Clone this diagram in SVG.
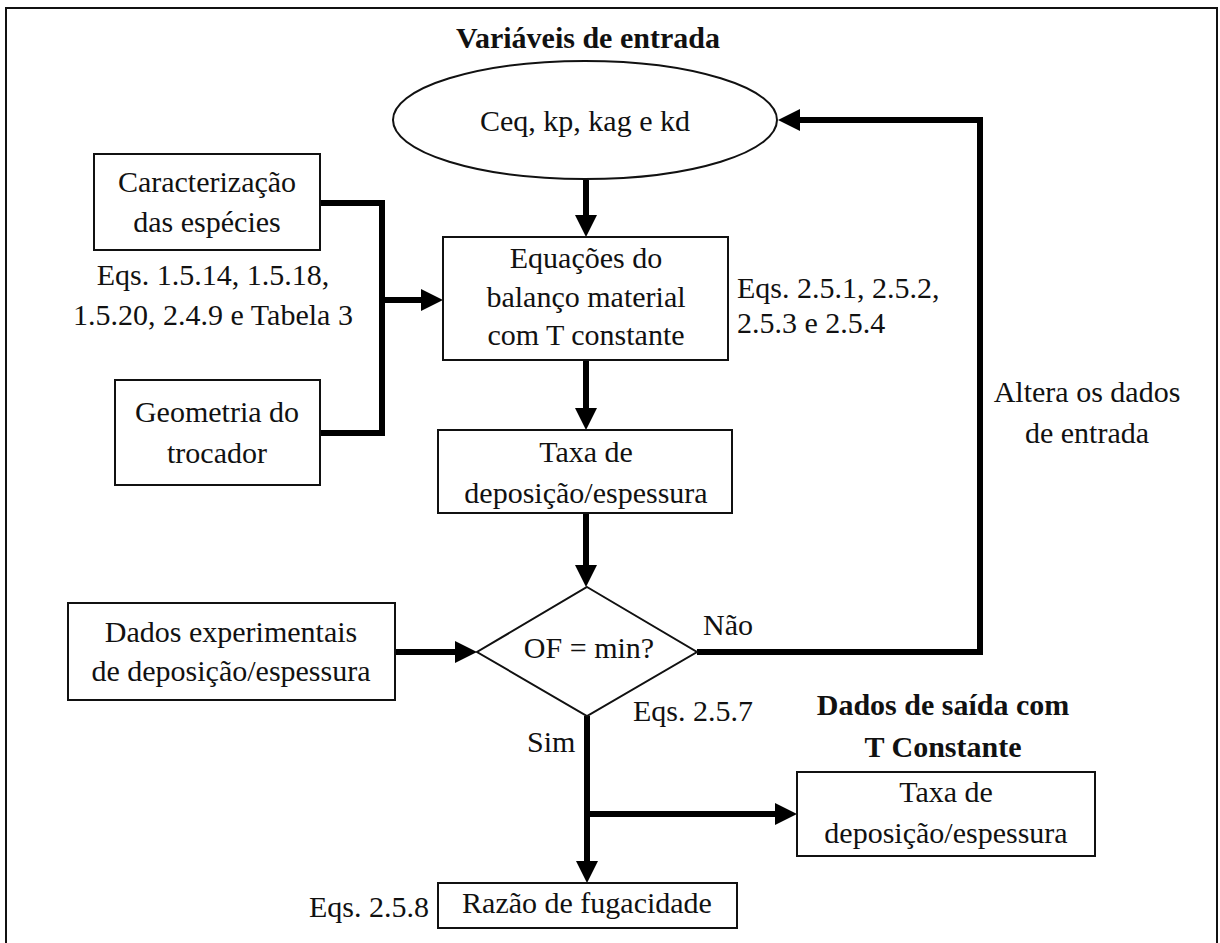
<svg xmlns="http://www.w3.org/2000/svg" width="1220" height="943" viewBox="0 0 1220 943">
<style>
  text { font-family: 'Liberation Serif', 'Times New Roman', 'DejaVu Serif', serif; font-size: 30px; fill: #111; }
  .t { text-anchor: middle; }
  .tl { text-anchor: start; }
  .b { font-weight: bold; }
  .box { fill: #fff; stroke: #111; stroke-width: 2; }
  .conn { fill: none; stroke: #000; stroke-width: 6; stroke-linejoin: miter; }
</style>
<defs>
  <marker id="ah" markerUnits="userSpaceOnUse" markerWidth="22" markerHeight="22" refX="0" refY="11" orient="auto">
    <path d="M0,0 L22,11 L0,22 Z" fill="#000"/>
  </marker>
</defs>
<rect x="0" y="0" width="1220" height="943" fill="#fff"/>
<rect id="frame" x="6" y="8" width="1211" height="960" fill="none" stroke="#111" stroke-width="2"/>

<g id="connectors">
  <path class="conn" d="M586,180 V215" marker-end="url(#ah)"/>
  <path class="conn" d="M320,203 H382 V433 H320"/>
  <path class="conn" d="M382,300 H421" marker-end="url(#ah)"/>
  <path class="conn" d="M586,360 V408" marker-end="url(#ah)"/>
  <path class="conn" d="M586,513 V565" marker-end="url(#ah)"/>
  <path class="conn" d="M395,652 H455" marker-end="url(#ah)"/>
  <path class="conn" d="M697,652 H980 V120 H800" marker-end="url(#ah)"/>
  <path class="conn" d="M587,716 V861" marker-end="url(#ah)"/>
  <path class="conn" d="M587,814 H775" marker-end="url(#ah)"/>
</g>

<g id="title-input" font-family="Liberation Serif, serif">
  <text class="t b" x="588" y="48">Variáveis de entrada</text>
</g>

<g id="node-input" font-family="Liberation Serif, serif">
  <ellipse class="box" cx="585" cy="120" rx="192" ry="59"/>
  <text class="t" x="585" y="131">Ceq, kp, kag e kd</text>
</g>

<g id="node-caracterizacao">
  <rect class="box" x="94" y="154" width="226" height="96"/>
  <text class="t" x="207" y="192">Caracterização</text>
  <text class="t" x="207" y="232">das espécies</text>
</g>

<g id="label-eqs-left">
  <text class="t" x="213" y="285">Eqs. 1.5.14, 1.5.18,</text>
  <text class="t" x="213" y="325">1.5.20, 2.4.9 e Tabela 3</text>
</g>

<g id="node-geometria">
  <rect class="box" x="115" y="380" width="205" height="105"/>
  <text class="t" x="217" y="422">Geometria do</text>
  <text class="t" x="217" y="463">trocador</text>
</g>

<g id="node-equacoes">
  <rect class="box" x="443" y="237" width="285" height="123"/>
  <text class="t" x="586" y="268">Equações do</text>
  <text class="t" x="586" y="307">balanço material</text>
  <text class="t" x="586" y="345">com T constante</text>
</g>

<g id="label-eqs-right">
  <text class="tl" x="737" y="298">Eqs. 2.5.1, 2.5.2,</text>
  <text class="tl" x="737" y="333">2.5.3 e 2.5.4</text>
</g>

<g id="node-taxa">
  <rect class="box" x="438" y="430" width="294" height="83"/>
  <text class="t" x="586" y="462">Taxa de</text>
  <text class="t" x="586" y="503">deposição/espessura</text>
</g>

<g id="label-altera">
  <text class="t" x="1087" y="402">Altera os dados</text>
  <text class="t" x="1087" y="443">de entrada</text>
</g>

<g id="node-dados-exp">
  <rect class="box" x="68" y="603" width="327" height="97"/>
  <text class="t" x="231" y="642">Dados experimentais</text>
  <text class="t" x="231" y="681">de deposição/espessura</text>
</g>

<g id="node-decisao">
  <polygon class="box" points="587,587 697,652 587,716 477,652"/>
  <text class="t" x="589" y="658">OF = min?</text>
</g>

<g id="labels-decisao">
  <text class="tl" x="703" y="635">Não</text>
  <text class="tl" x="633" y="721">Eqs. 2.5.7</text>
  <text class="tl" x="527" y="752">Sim</text>
</g>

<g id="title-output">
  <text class="t b" x="943" y="715">Dados de saída com</text>
  <text class="t b" x="943" y="757">T Constante</text>
</g>

<g id="node-taxa-out">
  <rect class="box" x="797" y="772" width="298" height="84"/>
  <text class="t" x="946" y="802">Taxa de</text>
  <text class="t" x="946" y="843">deposição/espessura</text>
</g>

<g id="node-razao">
  <rect class="box" x="438" y="883" width="299" height="45"/>
  <text class="t" x="587" y="913">Razão de fugacidade</text>
</g>

<g id="label-eqs-razao">
  <text class="tl" x="309" y="917">Eqs. 2.5.8</text>
</g>
</svg>
